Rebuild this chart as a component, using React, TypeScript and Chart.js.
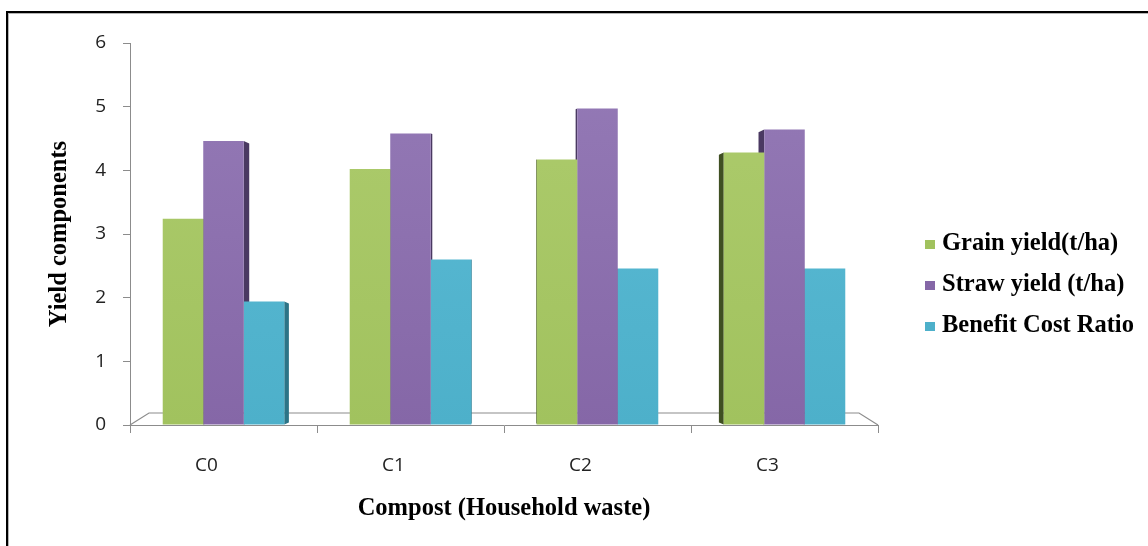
import React, { useEffect, useRef } from "react";
import { Chart, registerables } from "chart.js";

Chart.register(...registerables);

// Compost treatments on the category axis
const categories = ["C0", "C1", "C2", "C3"];

// Series values per treatment
const grainYield = [3.24, 4.02, 4.17, 4.28];
const strawYield = [4.46, 4.58, 4.97, 4.64];
const benefitCostRatio = [1.94, 2.6, 2.46, 2.46];

const seriesNames = ["Grain yield(t/ha)", "Straw yield (t/ha)", "Benefit Cost Ratio"];
const yAxisMin = 0;
const yAxisMax = 6;
const yAxisStep = 1;

// Face colour, lighter top tint, and shaded side colour for each series
const seriesBase = ["#a1c25e", "#8567a7", "#4db0ca"];
const seriesTop = ["#aecc6e", "#957bb7", "#5dbcd6"];
const seriesSide = ["#3f4f22", "#4a3962", "#2c7487"];

const serifBold = { family: "'Liberation Serif', 'Times New Roman', serif", size: 24.5, weight: "bold" as const };
const tickFont = { family: "'Open Sans', 'Noto Sans', sans-serif", size: 19 };
const axisGrey = "#8c8c8c";

// Outer frame: black rule on top and left with a thin grey inner line
const framePlugin = {
  id: "frame",
  beforeDraw(chart: Chart) {
    const { ctx, width, height } = chart;
    ctx.save();
    ctx.fillStyle = "#ffffff";
    ctx.fillRect(0, 0, width, height);
    ctx.fillStyle = "#000000";
    ctx.fillRect(6, 11, width - 6, 2);
    ctx.fillRect(6, 11, 2, height - 11);
    ctx.fillStyle = "#b4b4b4";
    ctx.fillRect(8, 13, width - 8, 1);
    ctx.fillRect(8, 13, 1, height - 13);
    ctx.restore();
  },
};

// Floor of the pseudo-3D plot and the shaded side faces of each column
const depthPlugin = {
  id: "depth",
  beforeDatasetsDraw(chart: Chart) {
    const { ctx, chartArea } = chart;
    const { left, right, bottom } = chartArea;
    const dx = 19;
    const dy = 12;
    ctx.save();
    ctx.strokeStyle = axisGrey;
    ctx.lineWidth = 1.2;
    ctx.beginPath();
    ctx.moveTo(left, bottom);
    ctx.lineTo(left + dx, bottom - dy);
    ctx.lineTo(right - dx, bottom - dy);
    ctx.lineTo(right, bottom);
    ctx.stroke();

    const vanishX = (left + right) / 2;
    chart.data.datasets.forEach((_, di) => {
      const meta = chart.getDatasetMeta(di);
      meta.data.forEach((el: any) => {
        const half = el.width / 2;
        const top = el.y;
        const base = el.base;
        ctx.fillStyle = seriesSide[di];
        ctx.beginPath();
        if (el.x < vanishX) {
          const edge = el.x + half;
          const w = Math.max(0, vanishX - edge) * 0.021;
          if (w < 0.5) return;
          ctx.moveTo(edge, top);
          ctx.lineTo(edge + w, top + w * 0.45);
          ctx.lineTo(edge + w, base - 2);
          ctx.lineTo(edge, base);
        } else {
          const edge = el.x - half;
          const w = Math.max(0, edge - vanishX) * 0.022;
          if (w < 0.5) return;
          ctx.moveTo(edge, top);
          ctx.lineTo(edge - w, top + w * 0.45);
          ctx.lineTo(edge - w, base - 2);
          ctx.lineTo(edge, base);
        }
        ctx.closePath();
        ctx.fill();
      });
    });
    ctx.restore();
  },
};

// Legend to the right of the plot
const sideLegendPlugin = {
  id: "sideLegend",
  afterDraw(chart: Chart) {
    const { ctx } = chart;
    const boxX = 925;
    const textX = 942;
    const firstBaseline = 250;
    const rowGap = 41;
    ctx.save();
    ctx.font = `bold ${serifBold.size}px ${serifBold.family}`;
    ctx.textBaseline = "alphabetic";
    ctx.textAlign = "left";
    seriesNames.forEach((name, i) => {
      const baseline = firstBaseline + i * rowGap;
      ctx.fillStyle = seriesBase[i];
      ctx.fillRect(boxX, baseline - 10, 10, 9);
      ctx.fillStyle = "#000000";
      ctx.fillText(name, textX, baseline);
    });
    ctx.restore();
  },
};

function columnFill(index: number) {
  return (context: any) => {
    const area = context.chart.chartArea;
    if (!area) return seriesBase[index];
    const g = context.chart.ctx.createLinearGradient(0, area.top, 0, area.bottom);
    g.addColorStop(0, seriesTop[index]);
    g.addColorStop(1, seriesBase[index]);
    return g;
  };
}

export default function App() {
  const canvasRef = useRef<HTMLCanvasElement | null>(null);

  useEffect(() => {
    document.body.style.margin = "0";
    const canvas = canvasRef.current;
    if (!canvas) return;
    const values = [grainYield, strawYield, benefitCostRatio];
    const chart = new Chart(canvas, {
      type: "bar",
      data: {
        labels: categories,
        datasets: values.map((data, i) => ({
          label: seriesNames[i],
          data,
          backgroundColor: columnFill(i),
          borderWidth: 0,
          barPercentage: 1,
          categoryPercentage: 0.65,
        })),
      },
      options: {
        responsive: false,
        devicePixelRatio: 1,
        animation: false,
        events: [],
        layout: { padding: { left: 30, right: 270, top: 43, bottom: 0 } },
        plugins: {
          legend: { display: false },
          tooltip: { enabled: false },
        },
        scales: {
          x: {
            grid: {
              display: true,
              drawOnChartArea: false,
              drawTicks: true,
              tickLength: 8,
              color: axisGrey,
              offset: true,
            },
            border: { display: true, color: axisGrey, width: 1 },
            ticks: {
              autoSkip: false,
              maxRotation: 0,
              font: tickFont,
              color: "#222222",
              padding: 21,
              labelOffset: -17,
            },
            title: {
              display: true,
              text: "Compost (Household waste)",
              font: serifBold,
              color: "#000000",
              padding: { top: 0, bottom: 23 },
            },
            afterFit: (scale: any) => {
              scale.height = 121;
            },
          },
          y: {
            min: yAxisMin,
            max: yAxisMax,
            ticks: {
              stepSize: yAxisStep,
              font: tickFont,
              color: "#222222",
              padding: 17,
            },
            grid: {
              display: true,
              drawOnChartArea: false,
              drawTicks: true,
              tickLength: 7,
              color: axisGrey,
            },
            border: { display: true, color: axisGrey, width: 1 },
            title: {
              display: true,
              text: "Yield components",
              font: serifBold,
              color: "#000000",
              padding: { top: 15, bottom: 0 },
            },
            afterFit: (scale: any) => {
              scale.width = 100;
            },
          },
        },
      },
      plugins: [framePlugin, depthPlugin, sideLegendPlugin],
    });
    return () => chart.destroy();
  }, []);

  return (
    <div style={{ position: "absolute", left: 0, top: 0, width: 1148, height: 546 }}>
      <canvas ref={canvasRef} width={1148} height={546} />
    </div>
  );
}
